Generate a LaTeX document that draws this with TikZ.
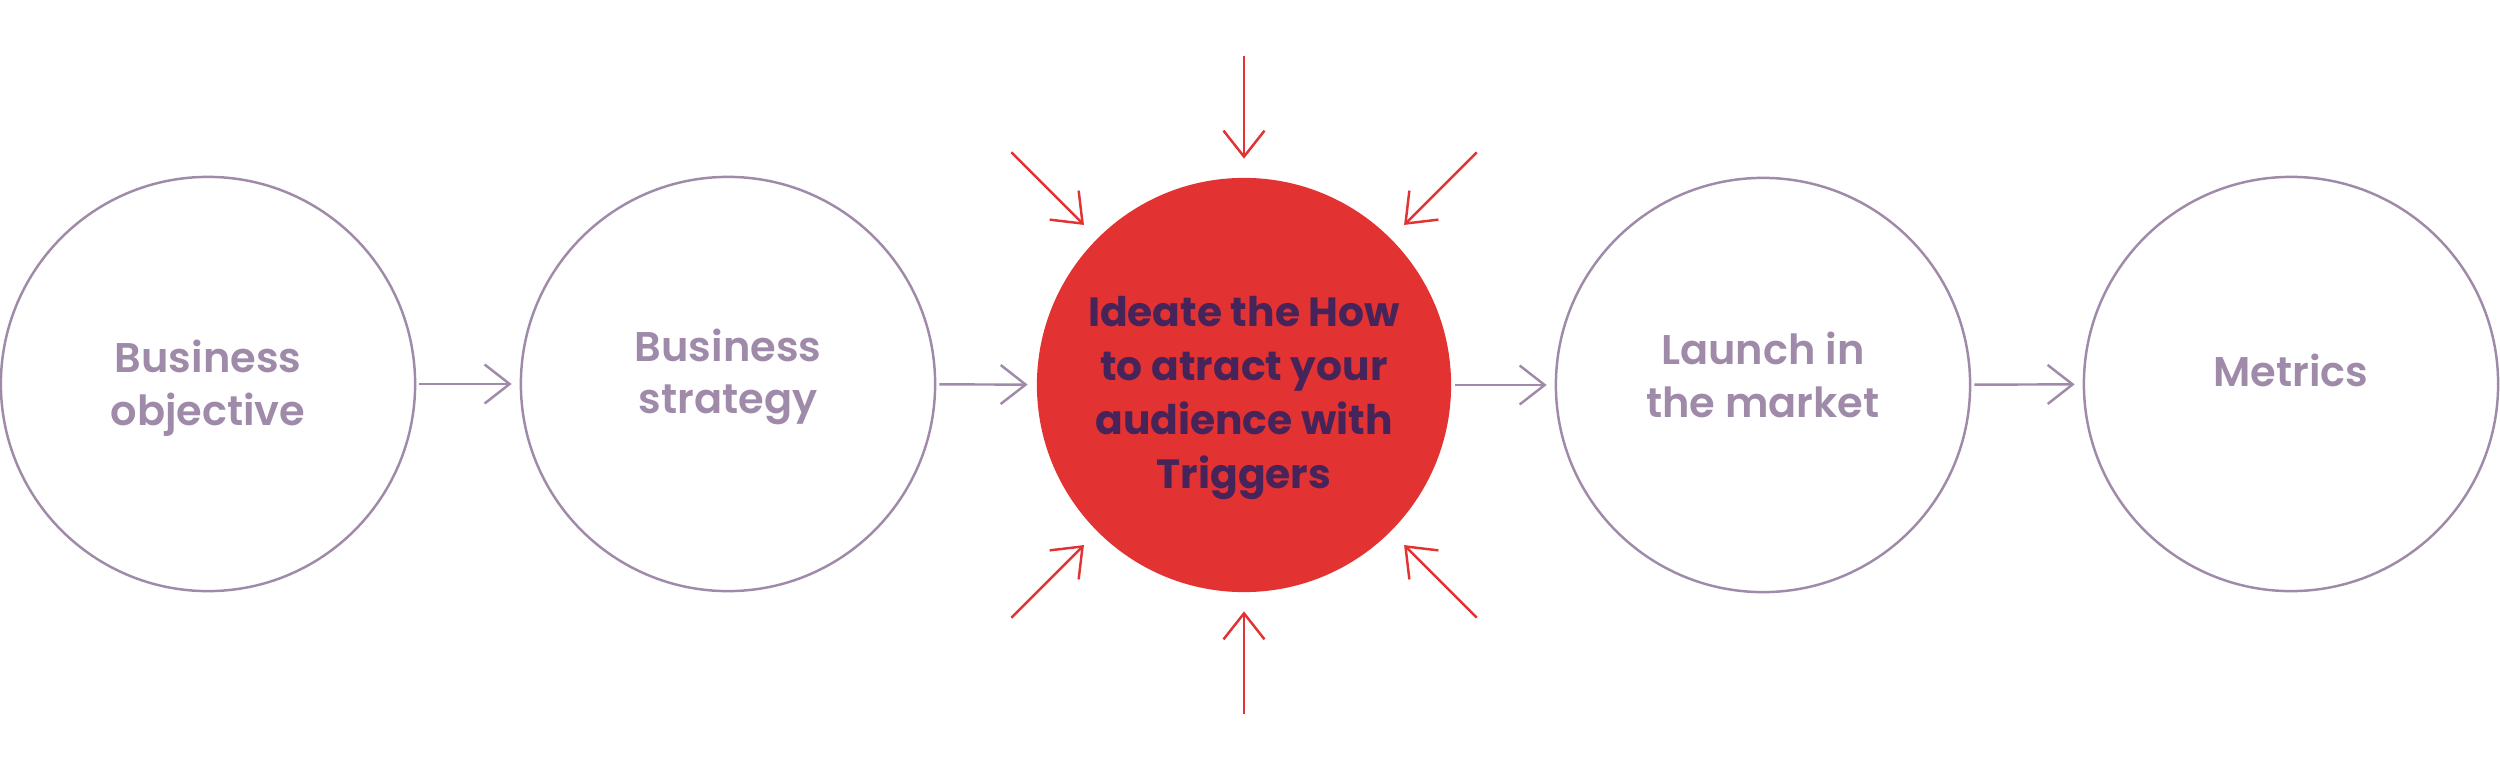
\documentclass[tikz,border=0pt]{standalone}
\usepackage{fontspec}
\setmainfont{Poppins}[BoldFont={Poppins SemiBold}]
\newfontfamily\heavyfont{Poppins Bold}
\usetikzlibrary{arrows.meta}

\definecolor{stagegray}{HTML}{9F8BA9}
\definecolor{ideared}{HTML}{E33232}
\definecolor{ideaink}{HTML}{46245A}

\tikzset{
    stage/.style={circle, draw=stagegray, line width=0.7pt, minimum size=4.14cm, inner sep=0pt},
    hot/.style={stage, draw=none, fill=ideared},
    caption/.style={align=center, text=stagegray, inner sep=0pt, font=\bfseries\fontsize{11.8}{15}\selectfont},
    hotcaption/.style={caption, text=ideaink, font=\heavyfont\fontsize{11.6}{15.3}\selectfont},
    flow/.style={draw=stagegray, line width=0.7pt, shorten <=0.03cm, shorten >=0.08cm, -{Straight Barb[length=0.25cm, width=0.39cm]}},
    trig/.style={draw=ideared, line width=0.7pt, shorten >=0.18cm, -{Straight Barb[length=0.26cm, width=0.41cm]}}
}

\begin{document}
\begin{tikzpicture}[x=0.01cm, y=0.01cm]

    \useasboundingbox (0, 0) rectangle (2500, 772);

    % the five stages
    \node[stage] (objective) at (208, 388) {};
    \node[stage] (strategy) at (728, 388) {};
    \node[hot] (ideate) at (1244, 387) {};
    \node[stage] (launch) at (1763, 387) {};
    \node[stage] (metrics) at (2291, 388) {};

    \node[caption] (objectiveText) at ([yshift=-0.04cm]objective.center) {Business\\objective};
    \node[caption] (strategyText) at ([yshift=0.07cm]strategy.center) {Business\\strategy};
    \node[hotcaption] (ideateText) at ([yshift=-0.13cm]ideate.center) {Ideate the How\\to atract your\\audience with\\Triggers};
    \node[caption] (launchText) at ([yshift=0.10cm]launch.center) {Launch in\\the market};
    \node[caption] (metricsText) at ([yshift=0.14cm]metrics.center) {Metrics};

    % flow between stages
    \draw[flow] (objective) -- (strategy);
    \draw[flow] (strategy) -- (ideate);
    \draw[flow] (ideate) -- (launch);
    \draw[flow] (launch) -- (metrics);

    % triggers pointing in
    \foreach \a in {45, 90, 135, 225, 270, 315} {
        \coordinate (trig\a) at ([shift={(\a:329)}]ideate.center);
        \draw[trig] (trig\a) -- (ideate.\a);
    }

\end{tikzpicture}
\end{document}
